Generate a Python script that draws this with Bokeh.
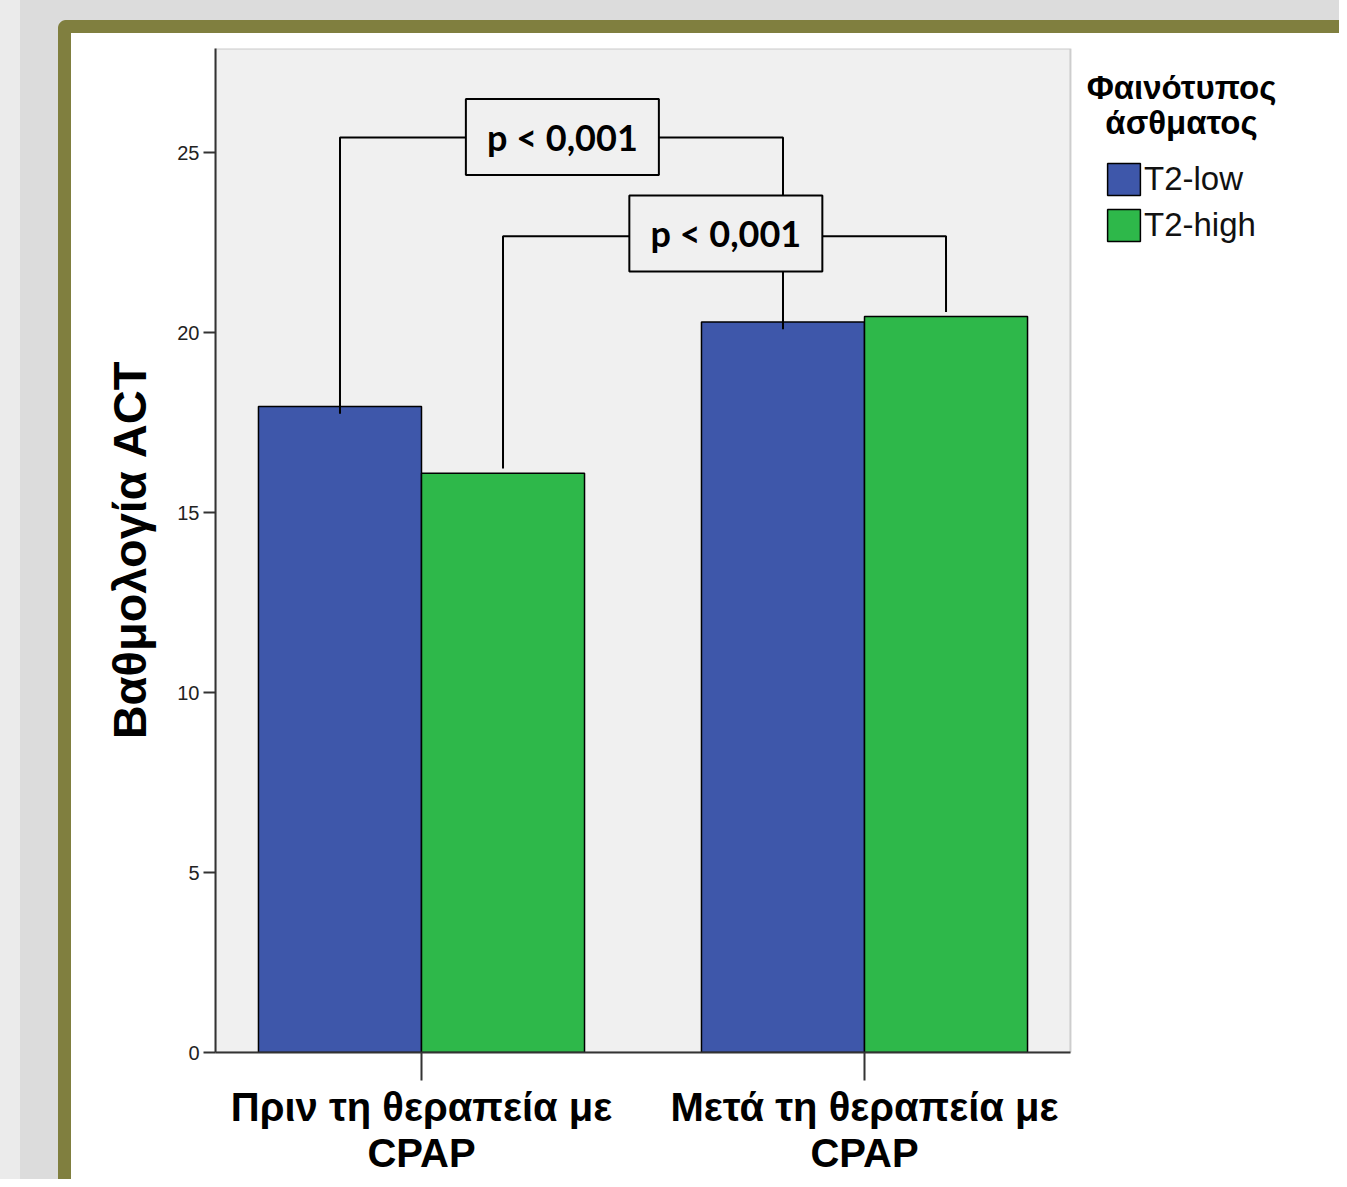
from bokeh.plotting import figure
from bokeh.models import (Range1d, FixedTicker, Legend, LegendItem, BoxAnnotation, Label)
from bokeh.core.properties import value
from bokeh.embed import file_html
from bokeh.resources import INLINE

# ---------------- data ----------------
categories = ["Πριν τη θεραπεία με\nCPAP", "Μετά τη θεραπεία με\nCPAP"]
series_names = ["T2-low", "T2-high"]
t2_low = [17.95, 20.3]
t2_high = [16.1, 20.45]
y_ticks = [0, 5, 10, 15, 20, 25]
legend_title = ["Φαινότυπος", "άσθματος"]
p_labels = ["p < 0,001", "p < 0,001"]
bracket_levels = [25.43, 22.68]      # height of the comparison brackets
bracket_arm_gap = [-0.2, 0.13]       # arm end relative to bar top
box_centers_x = [1.318, 1.687]
box_centers_y = [25.44, 22.76]

# ---------------- styling ----------------
W, H = 1339, 1179
BLUE = "#3e57aa"
GREEN = "#2eb84a"
FONT = "Liberation Sans"
X_LO, X_HI = 0.535, 2.465        # visible plot box
Y_HI = 27.9

p = figure(width=W, height=H, output_backend="svg", toolbar_location=None,
           x_range=Range1d(X_LO, 3.0722), y_range=Range1d(0, Y_HI),
           min_border_left=215, min_border_right=0,
           min_border_top=48, min_border_bottom=127)
p.background_fill_color = "white"
p.border_fill_alpha = 0
p.outline_line_color = None
p.grid.visible = False
p.styles = {
    "background": ("radial-gradient(circle at 8px 8px, #807f3f 7.5px, #dcdcdc 8.5px) 58px 20px / 8px 8px no-repeat, "
                   "linear-gradient(white, white) 71px 33px / 100% 100% no-repeat, "
                   "linear-gradient(#807f3f, #807f3f) 58px 20px / 100% 100% no-repeat, "
                   "linear-gradient(#ebebeb, #ebebeb) 0 0 / 20px 100% no-repeat, "
                   "#dcdcdc")
}

# grey plot box
p.add_layout(BoxAnnotation(left=X_LO, right=X_HI, bottom=0, top=Y_HI,
                           fill_color="#f0f0f0", fill_alpha=1,
                           line_color="#6e6e6e", line_width=2, level="underlay"))

# ---------------- bars ----------------
centers = [i + 1 for i in range(len(categories))]
bar_w = 0.368
low_x = [c - bar_w / 2 for c in centers]
high_x = [c + bar_w / 2 for c in centers]

r_low = p.vbar(x=low_x, top=t2_low, bottom=0, width=bar_w,
               fill_color=BLUE, line_color="black", line_width=1.5)
r_high = p.vbar(x=high_x, top=t2_high, bottom=0, width=bar_w,
                fill_color=GREEN, line_color="black", line_width=1.5)

# ---------------- comparison brackets ----------------
xs, ys = [], []
for k, (bx, vals) in enumerate([(low_x, t2_low), (high_x, t2_high)]):
    lev = bracket_levels[k]
    g = bracket_arm_gap[k]
    xs.append([bx[0], bx[0], bx[1], bx[1]])
    ys.append([vals[0] + g, lev, lev, vals[1] + g])
p.multi_line(xs=xs, ys=ys, line_color="black", line_width=2)

p.rect(x=box_centers_x, y=box_centers_y, width=193, height=76,
       width_units="screen", height_units="screen",
       fill_color="#f0f0f0", line_color="black", line_width=2)
p.text(x=box_centers_x, y=box_centers_y, text=p_labels,
       text_font=value("Lato"), text_font_style="bold", text_font_size="36px",
       text_align="center", text_baseline="middle", text_color="black")

# ---------------- axes ----------------
xa = p.xaxis[0]
xa.bounds = (X_LO, X_HI)
xa.ticker = FixedTicker(ticks=centers)
xa.major_label_overrides = {c: lab for c, lab in zip(centers, categories)}
xa.major_label_text_font = FONT
xa.major_label_text_font_style = "bold"
xa.major_label_text_font_size = "40px"
xa.major_label_text_color = "black"
xa.major_label_text_line_height = 1.05
xa.major_label_standoff = 4
xa.major_tick_out = 28
xa.major_tick_in = 0
xa.major_tick_line_width = 2
xa.major_tick_line_color = "#333333"
xa.minor_tick_line_color = None
xa.axis_line_color = "#333333"
xa.axis_line_width = 2

ya = p.yaxis[0]
ya.ticker = FixedTicker(ticks=y_ticks)
ya.major_label_text_font = FONT
ya.major_label_text_font_size = "20px"
ya.major_label_text_color = "#222222"
ya.major_label_standoff = 4
ya.major_tick_out = 12
ya.major_tick_in = 0
ya.major_tick_line_width = 2
ya.major_tick_line_color = "#333333"
ya.minor_tick_line_color = None
ya.axis_line_color = "#333333"
ya.axis_line_width = 2
ya.axis_label = "Βαθμολογία ACT"
ya.axis_label_text_font = FONT
ya.axis_label_text_font_style = "bold"
ya.axis_label_text_font_size = "47px"
ya.axis_label_text_color = "black"
ya.axis_label_standoff = 18

# ---------------- legend ----------------
for t, yb in zip(legend_title, [26.81, 25.84]):
    p.add_layout(Label(x=2.7156, y=yb, text=t, text_align="center",
                       text_baseline="alphabetic", text_font=FONT,
                       text_font_style="bold", text_font_size="33px",
                       text_color="black"))

legend = Legend(items=[LegendItem(label=series_names[0], renderers=[r_low]),
                       LegendItem(label=series_names[1], renderers=[r_high])],
                location=(888, 807), glyph_width=41, glyph_height=40,
                label_height=40, label_standoff=0, spacing=6, padding=0, margin=0,
                label_text_font=FONT, label_text_font_size="33px",
                label_text_color="#111111",
                border_line_alpha=0, background_fill_alpha=0)
p.add_layout(legend, "center")

open("out.html", "w").write(file_html(p, INLINE))
